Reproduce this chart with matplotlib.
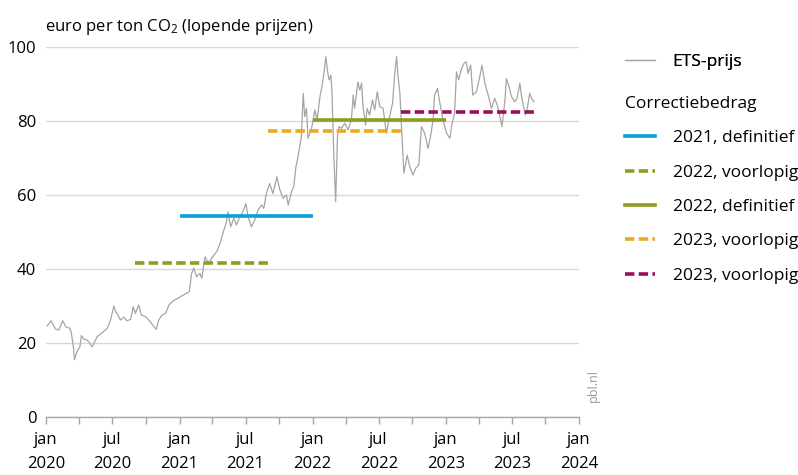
import numpy as np
import pandas as pd
import matplotlib as mp
import matplotlib.pyplot as plt
import matplotlib.dates as mdates
import matplotlib.ticker as mticker
from matplotlib.lines import Line2D

# ETS price (euro per ton CO2)
price_dates = [
    '2020-01-04', '2020-01-15', '2020-01-27', '2020-02-05', '2020-02-16', '2020-02-24',
    '2020-03-06', '2020-03-10', '2020-03-16', '2020-03-19', '2020-03-26', '2020-04-03',
    '2020-04-07', '2020-04-14', '2020-04-23', '2020-05-07', '2020-05-20', '2020-06-03',
    '2020-06-17', '2020-06-26', '2020-07-05', '2020-07-10', '2020-07-16', '2020-07-23',
    '2020-08-01', '2020-08-10', '2020-08-20', '2020-08-27', '2020-09-02', '2020-09-11',
    '2020-09-18', '2020-09-30', '2020-10-12', '2020-10-23', '2020-10-29', '2020-11-05',
    '2020-11-14', '2020-11-24', '2020-12-03', '2020-12-12', '2021-01-28', '2021-02-03',
    '2021-02-09', '2021-02-17', '2021-02-26', '2021-03-03', '2021-03-12', '2021-03-21',
    '2021-03-30', '2021-04-13', '2021-04-22', '2021-05-01', '2021-05-10', '2021-05-14',
    '2021-05-21', '2021-05-30', '2021-06-06', '2021-06-15', '2021-06-24', '2021-07-02',
    '2021-07-08', '2021-07-17', '2021-07-26', '2021-08-04', '2021-08-14', '2021-08-20',
    '2021-08-27', '2021-09-05', '2021-09-14', '2021-09-25', '2021-10-03', '2021-10-12',
    '2021-10-21', '2021-10-26', '2021-11-04', '2021-11-10', '2021-11-16', '2021-11-22',
    '2021-12-01', '2021-12-06', '2021-12-10', '2021-12-15', '2021-12-19', '2021-12-29',
    '2022-01-07', '2022-01-13', '2022-01-21', '2022-01-27', '2022-02-02', '2022-02-06',
    '2022-02-11', '2022-02-15', '2022-02-20', '2022-02-23', '2022-02-28', '2022-03-05',
    '2022-03-10', '2022-03-14', '2022-03-21', '2022-03-30', '2022-04-08', '2022-04-17',
    '2022-04-22', '2022-04-26', '2022-05-05', '2022-05-10', '2022-05-15', '2022-05-19',
    '2022-05-26', '2022-05-30', '2022-06-06', '2022-06-14', '2022-06-20', '2022-06-27',
    '2022-07-04', '2022-07-13', '2022-07-22', '2022-07-31', '2022-08-08', '2022-08-14',
    '2022-08-19', '2022-08-23', '2022-08-28', '2022-09-01', '2022-09-08', '2022-09-17',
    '2022-09-24', '2022-10-03', '2022-10-10', '2022-10-19', '2022-10-26', '2022-11-04',
    '2022-11-13', '2022-11-20', '2022-11-27', '2022-12-01', '2022-12-09', '2022-12-15',
    '2022-12-24', '2023-01-03', '2023-01-12', '2023-01-18', '2023-01-25', '2023-01-30',
    '2023-02-05', '2023-02-13', '2023-02-20', '2023-02-26', '2023-03-03', '2023-03-10',
    '2023-03-16', '2023-03-26', '2023-04-04', '2023-04-10', '2023-04-18', '2023-04-27',
    '2023-05-06', '2023-05-15', '2023-05-23', '2023-05-29', '2023-06-04', '2023-06-12',
    '2023-06-16', '2023-06-23', '2023-06-30', '2023-07-09', '2023-07-15', '2023-07-23',
    '2023-07-27', '2023-08-01', '2023-08-07', '2023-08-13', '2023-08-19', '2023-08-24',
    '2023-08-31',
]
price_values = [
    24.6, 26.0, 23.8, 23.5, 26.0, 24.4,
    24.0, 23.0, 19.0, 15.5, 17.7, 19.0,
    22.0, 21.0, 20.8, 19.0, 21.7, 22.8,
    24.0, 26.2, 30.0, 28.5, 27.6, 26.2,
    27.0, 26.0, 26.4, 29.8, 28.0, 30.3,
    27.6, 27.1, 25.8, 24.4, 23.7, 26.2,
    27.6, 28.0, 30.3, 31.2, 33.9, 38.8,
    40.2, 37.9, 38.8, 37.5, 43.3, 41.5,
    42.9, 44.7, 46.9, 50.0, 52.8, 55.5,
    51.4, 53.7, 51.9, 54.1, 55.5, 57.7,
    54.1, 51.4, 53.2, 55.9, 57.3, 56.4,
    60.4, 63.1, 60.4, 64.9, 61.4, 59.1,
    60.0, 57.3, 60.9, 62.2, 67.6, 70.4,
    75.8, 87.5, 81.2, 83.4, 75.3, 78.0,
    83.0, 80.3, 86.6, 89.7, 93.8, 97.4,
    93.3, 91.1, 92.4, 87.5, 70.4, 58.2,
    75.8, 78.5, 78.0, 79.4, 77.6, 80.3,
    87.0, 83.4, 90.6, 88.4, 90.2, 83.9,
    78.9, 83.4, 81.6, 85.7, 83.0, 87.9,
    83.9, 83.4, 76.7, 81.2, 84.8, 92.9,
    97.4, 92.0, 87.5, 79.4, 65.9, 70.8,
    67.6, 65.4, 67.2, 68.1, 78.5, 76.7,
    72.6, 75.8, 80.3, 87.0, 88.8, 85.2,
    80.3, 76.7, 75.3, 79.4, 82.1, 93.3,
    91.1, 94.2, 95.6, 96.0, 92.9, 95.1,
    87.0, 87.9, 92.0, 95.1, 90.2, 87.0,
    83.4, 86.1, 83.9, 81.2, 78.5, 85.7,
    91.5, 89.3, 86.6, 85.2, 86.1, 90.2,
    87.0, 84.3, 81.6, 83.9, 87.5, 86.1,
    85.2,
]

# Correctiebedrag segments
seg_labels = ['2021, definitief', '2022, voorlopig', '2022, definitief',
              '2023, voorlopig', '2023, voorlopig']
seg_start = ['2021-01-01', '2020-09-01', '2022-01-01', '2021-09-01', '2022-09-01']
seg_end = ['2022-01-01', '2021-09-01', '2023-01-01', '2022-09-01', '2023-09-01']
seg_values = [54.3, 41.7, 80.2, 77.2, 82.4]

seg_colors = ['#0a9fdc', '#919a23', '#919a23', '#eca81f', '#9c0d5c']
seg_dashed = [False, True, False, True, True]

month_nl = {1: 'jan', 7: 'jul'}

mp.rc('font', family=['Open Sans', 'DejaVu Sans'], size=12)
mp.rc('mathtext', fontset='custom', rm='Open Sans', it='Open Sans:italic')

fig = plt.figure(figsize=(7.98, 4.75), dpi=100)
ax = fig.add_axes([46 / 798, 1 - 417 / 475, 533 / 798, 370 / 475])

ax.plot(pd.to_datetime(price_dates), price_values, color='#a5a5a5', lw=0.9, zorder=2)

for lab, s, e, v, c, d in zip(seg_labels, seg_start, seg_end, seg_values, seg_colors, seg_dashed):
    ls = (0, (2.6, 1.2)) if d else '-'
    ax.plot(pd.to_datetime([s, e]), [v, v], color=c, lw=2.6, ls=ls,
            solid_capstyle='butt', dash_capstyle='butt', zorder=3)

ax.set_xlim(pd.Timestamp('2020-01-01'), pd.Timestamp('2024-01-01'))
ax.set_ylim(0, 100)
ax.set_yticks(np.arange(0, 101, 20))
ax.yaxis.grid(True, color='#d9d9d9', lw=1)
ax.set_axisbelow(True)
for sp in ['left', 'right', 'top']:
    ax.spines[sp].set_visible(False)
ax.spines['bottom'].set_color('#a6a6a6')
ax.spines['bottom'].set_linewidth(1.0)

ax.xaxis.set_major_locator(mdates.MonthLocator(bymonth=[1, 7]))
ax.xaxis.set_minor_locator(mdates.MonthLocator(bymonth=[4, 10]))
ax.xaxis.set_major_formatter(mticker.FuncFormatter(
    lambda x, pos: '%s\n%d' % (month_nl[mdates.num2date(x).month], mdates.num2date(x).year)))
ax.tick_params(axis='x', which='both', length=5, color='#a6a6a6', width=1, pad=6)
ax.tick_params(axis='y', length=0, pad=7)
for t in ax.get_xticklabels():
    t.set_linespacing(1.65)

fig.text(45 / 798, 1 - 31 / 475, 'euro per ton CO$_2$ (lopende prijzen)',
         ha='left', va='baseline')
fig.text(593 / 798, 1 - 386 / 475, 'pbl.nl', rotation=90, color='#999999',
         fontsize=9, ha='center', va='center')

# legends
h_ets = [Line2D([], [], color='#a5a5a5', lw=0.9)]
leg1 = fig.legend(h_ets, ['ETS-prijs'], loc='upper left', bbox_to_anchor=(618 / 798, 1 - 47 / 475),
                  frameon=False, handlelength=1.75, handletextpad=1.0, borderaxespad=0,
                  fontsize=12.5)
h_seg = [Line2D([], [], color=c, lw=2.6, ls=(0, (2.6, 1.2)) if d else '-')
         for c, d in zip(seg_colors, seg_dashed)]
leg2 = fig.legend(h_seg, seg_labels, loc='upper left', bbox_to_anchor=(618 / 798, 1 - 89 / 475),
                  frameon=False, handlelength=1.75, handletextpad=1.0, labelspacing=1.05,
                  title='Correctiebedrag', alignment='left', borderaxespad=0,
                  fontsize=12.5, title_fontsize=12.5)
fig.add_artist(leg1)

fig.savefig('out.png', dpi=100)
